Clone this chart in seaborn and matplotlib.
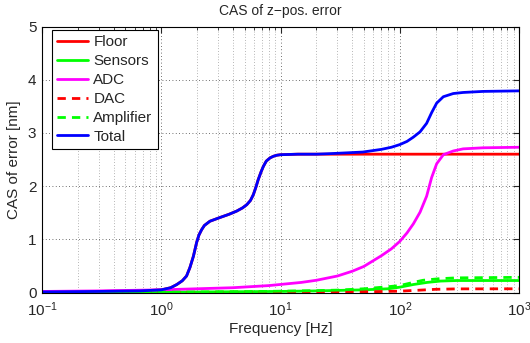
import numpy as np
import pandas as pd
import matplotlib
matplotlib.use("Agg")
import matplotlib.pyplot as plt
import seaborn as sns
from matplotlib.ticker import LogLocator, NullFormatter, MultipleLocator

# ---- data ----
floor_f = [0.1, 0.3, 0.66, 1.0, 1.2, 1.35, 1.5, 1.63, 1.74, 1.86, 1.98, 2.07, 2.18, 2.3, 2.56, 3.11, 3.7, 4.29, 4.8, 5.21, 5.6, 5.92, 6.2, 6.5, 6.85, 7.18, 7.6, 8.17, 8.7, 9.3, 10, 14, 20, 1000]
floor_v = [0.01, 0.02, 0.03, 0.05, 0.09, 0.15, 0.22, 0.31, 0.47, 0.68, 0.94, 1.08, 1.18, 1.26, 1.34, 1.41, 1.47, 1.53, 1.59, 1.65, 1.73, 1.84, 1.97, 2.12, 2.26, 2.37, 2.47, 2.53, 2.56, 2.58, 2.59, 2.6, 2.6, 2.6]

total_f = floor_f[:-1] + [26, 49, 70, 85, 100, 115, 130, 148, 168, 185, 204, 232, 281, 340, 500, 1000]
total_v = floor_v[:-1] + [2.61, 2.64, 2.69, 2.73, 2.78, 2.84, 2.92, 3.02, 3.18, 3.38, 3.56, 3.68, 3.74, 3.76, 3.78, 3.79]

adc_f = [0.1, 0.3, 1, 2, 4, 8, 15, 20, 30, 40, 50, 70, 85, 100, 115, 130, 148, 168, 185, 204, 232, 281, 340, 500, 1000]
adc_v = [0.02, 0.03, 0.05, 0.07, 0.09, 0.13, 0.19, 0.23, 0.31, 0.40, 0.49, 0.69, 0.82, 0.96, 1.12, 1.29, 1.51, 1.81, 2.16, 2.42, 2.59, 2.66, 2.70, 2.72, 2.73]

sens_f = [0.1, 1, 10, 20, 50, 80, 100, 130, 170, 220, 300, 1000]
sens_v = [0.0, 0.005, 0.02, 0.03, 0.05, 0.07, 0.10, 0.15, 0.19, 0.215, 0.225, 0.225]

dac_f = [0.1, 10, 50, 100, 150, 200, 300, 1000]
dac_v = [0.0, 0.005, 0.012, 0.025, 0.045, 0.06, 0.068, 0.07]

amp_f = [0.1, 1, 5, 10, 20, 30, 50, 72, 100, 130, 157, 216, 300, 1000]
amp_v = [0.0, 0.005, 0.015, 0.025, 0.035, 0.045, 0.07, 0.10, 0.13, 0.19, 0.23, 0.26, 0.275, 0.285]

series_names = ["Floor", "Sensors", "ADC", "DAC", "Amplifier", "Total"]
title = "CAS of z\u2212pos. error"
xlabel = "Frequency [Hz]"
ylabel = "CAS of error [nm]"

# ---- build tidy frame ----
parts = []
for name, f, v in [("Floor", floor_f, floor_v), ("Sensors", sens_f, sens_v),
                   ("ADC", adc_f, adc_v), ("DAC", dac_f, dac_v),
                   ("Amplifier", amp_f, amp_v), ("Total", total_f, total_v)]:
    parts.append(pd.DataFrame({"f": f, "v": v, "series": name}))
df = pd.concat(parts, ignore_index=True)

styles = {
    "Floor": ((1, 0, 0), "-"),
    "Sensors": ((0, 1, 0), "-"),
    "ADC": ((1, 0, 1), "-"),
    "DAC": ((1, 0, 0), (0, (3, 2.2))),
    "Amplifier": ((0, 1, 0), (0, (3, 2.2))),
    "Total": ((0, 0, 1), "-"),
}

sns.set_style("white")
plt.rcParams["font.family"] = ["Liberation Sans", "DejaVu Sans"]
plt.rcParams["mathtext.fontset"] = "custom"
plt.rcParams["mathtext.rm"] = "Liberation Sans"
plt.rcParams["mathtext.it"] = "Liberation Sans:italic"

fig = plt.figure(figsize=(5.30, 3.43), dpi=100)
ax = fig.add_axes([42/530, (343-292.5)/343, (519-42)/530, (292.5-26.5)/343])

for name in series_names:
    c, ls = styles[name]
    sub = df[df["series"] == name]
    sns.lineplot(data=sub, x="f", y="v", ax=ax, color=c, linestyle=ls,
                 linewidth=2.0, label=name, estimator=None, sort=False)

ax.set_xscale("log")
ax.set_xlim(0.1, 1000)
ax.set_ylim(0, 5)
ax.yaxis.set_major_locator(MultipleLocator(1))
ax.xaxis.set_major_locator(LogLocator(base=10, numticks=10))
ax.xaxis.set_minor_locator(LogLocator(base=10, subs=np.arange(2, 10), numticks=20))
ax.xaxis.set_minor_formatter(NullFormatter())

ax.grid(True, which="major", axis="both", linestyle=(0, (1, 3)), color="0.25", linewidth=0.6)
ax.grid(True, which="minor", axis="x", linestyle=(0, (1, 3)), color="0.45", linewidth=0.5)
ax.set_axisbelow(True)

ax.tick_params(which="both", direction="in", top=True, right=True, labelsize=11)
ax.tick_params(axis="x", pad=6)
ax.tick_params(axis="y", pad=4)
ax.tick_params(which="major", length=4, width=0.8)
ax.tick_params(which="minor", length=2, width=0.6)
for s in ax.spines.values():
    s.set_color("black")
    s.set_linewidth(0.8)

ax.set_title(title, fontsize=10, pad=8)
ax.set_xlabel(xlabel, fontsize=11, labelpad=2)
ax.set_ylabel(ylabel, fontsize=11, labelpad=5)

leg = ax.legend(loc="upper left", bbox_to_anchor=(0.021, 0.987), borderaxespad=0,
                fontsize=11, frameon=True, fancybox=False,
                edgecolor="black", framealpha=1, handlelength=2.0, handletextpad=0.35,
                labelspacing=0.32, borderpad=0.35)
leg.get_frame().set_linewidth(0.8)

fig.savefig("out.png", dpi=100)
